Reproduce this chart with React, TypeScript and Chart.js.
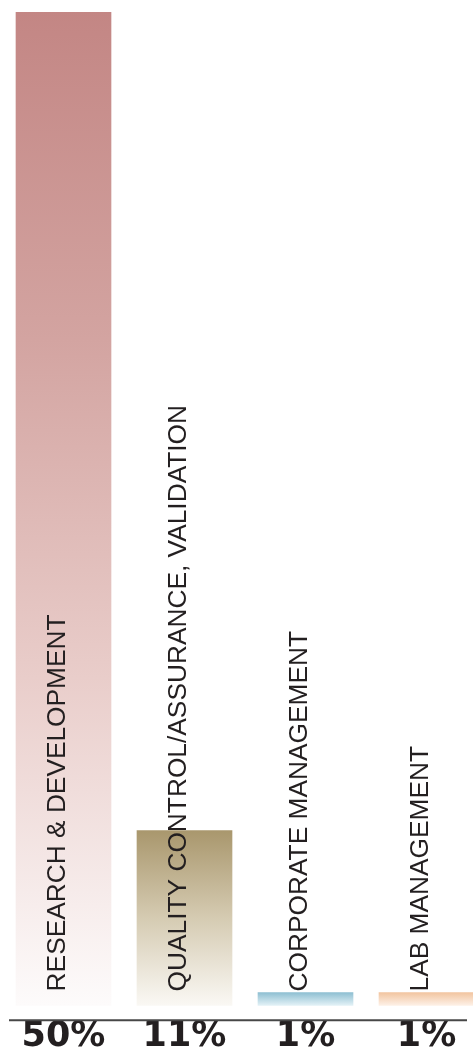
import React, { useEffect, useRef } from "react";
import { Chart, registerables } from "chart.js";

Chart.register(...registerables);

const categories = [
  "RESEARCH & DEVELOPMENT",
  "QUALITY CONTROL/ASSURANCE, VALIDATION",
  "CORPORATE MANAGEMENT",
  "LAB MANAGEMENT",
];
const shareLabels = ["50%", "11%", "1%", "1%"];
// bar heights as drawn in the picture (same units as the top bar = 50)
const barValues = [50, 8.8, 0.65, 0.65];
const gradientStops: [number, string][][] = [
  [[0, "#c38684"], [0.33, "#d3a4a1"], [0.67, "#e9cdca"], [1, "#fdfbfb"]],
  [[0, "#a9976d"], [0.5, "#d5cbb2"], [1, "#faf8f4"]],
  [[0, "#8ebfd2"], [1, "#e2f1f6"]],
  [[0, "#f2c5a0"], [1, "#fdf0e6"]],
];

const innerLabels = {
  id: "innerLabels",
  afterDatasetsDraw(chart: any) {
    const ctx = chart.ctx;
    const meta = chart.getDatasetMeta(0);
    ctx.save();
    ctx.font = '26.3px "Liberation Sans", Arial, sans-serif';
    ctx.fillStyle = "#231f20";
    ctx.textAlign = "left";
    ctx.textBaseline = "alphabetic";
    meta.data.forEach((el: any, i: number) => {
      ctx.save();
      ctx.translate(el.x + 1.5, el.base - 14);
      ctx.rotate(-Math.PI / 2);
      ctx.fillText(categories[i], 0, 0);
      ctx.restore();
    });
    // baseline rule
    const y = chart.chartArea.bottom;
    ctx.strokeStyle = "#474747";
    ctx.lineWidth = 2;
    ctx.beginPath();
    ctx.moveTo(chart.chartArea.left + 6, y);
    ctx.lineTo(chart.chartArea.right - 20, y);
    ctx.stroke();
    ctx.restore();
  },
};

export default function App() {
  const ref = useRef<HTMLCanvasElement | null>(null);
  useEffect(() => {
    document.body.style.margin = "0";
    const canvas = ref.current!;
    const chart = new Chart(canvas, {
      type: "bar",
      data: {
        labels: shareLabels,
        datasets: [
          {
            data: barValues,
            barThickness: 95,
            borderWidth: 0,
            backgroundColor: (c: any) => {
              const i = c.dataIndex;
              const chart = c.chart;
              const { chartArea, scales } = chart;
              if (!chartArea || !scales.y) return gradientStops[i][0][1];
              const yTop = scales.y.getPixelForValue(barValues[i]);
              const yBot = scales.y.getPixelForValue(0);
              const g = chart.ctx.createLinearGradient(0, yTop, 0, yBot);
              gradientStops[i].forEach(([o, col]) => g.addColorStop(o, col));
              return g;
            },
          },
        ],
      },
      options: {
        responsive: false,
        animation: false,
        layout: { padding: { left: 3, right: 3, top: 12, bottom: 0 } },
        plugins: { legend: { display: false }, tooltip: { enabled: false } },
        scales: {
          x: {
            grid: { display: false, drawTicks: false },
            border: { display: false },
            ticks: {
              color: "#231f20",
              padding: 2,
              font: { family: '"DejaVu Sans", sans-serif', size: 35, weight: "bold", lineHeight: 0.82 },
              maxRotation: 0,
              autoSkip: false,
            },
          },
          y: {
            display: false,
            min: -0.75,
            max: 50,
          },
        },
      },
      plugins: [innerLabels],
    });
    return () => chart.destroy();
  }, []);
  return (
    <div style={{ width: 473, height: 1053, overflow: "hidden", position: "relative", background: "#fff" }}>
      <canvas ref={ref} width={490} height={1053} style={{ width: 490, height: 1053, display: "block" }} />
    </div>
  );
}
